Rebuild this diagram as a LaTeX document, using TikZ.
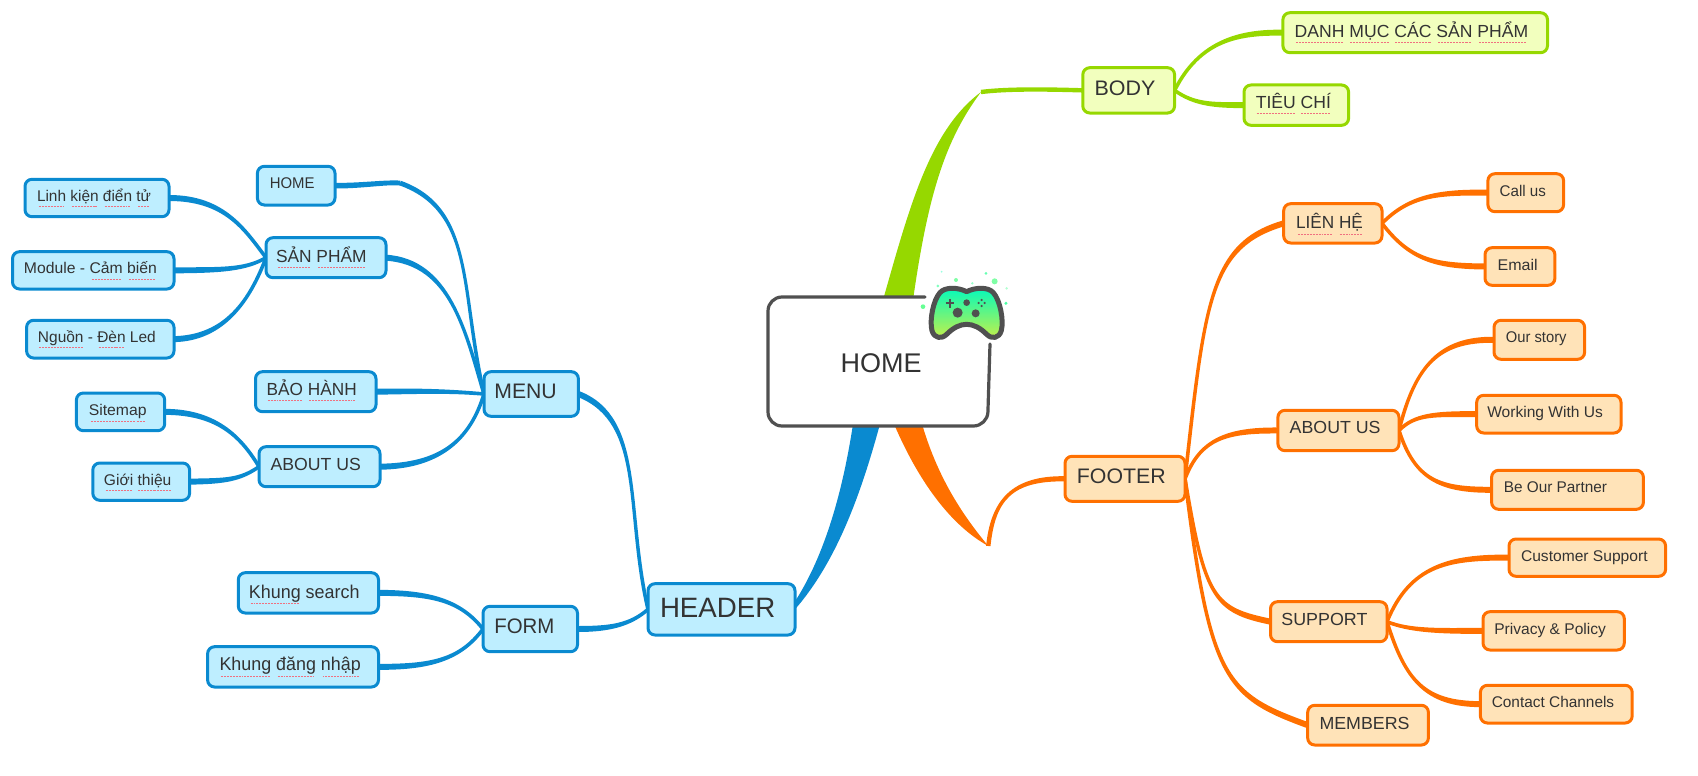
\documentclass[tikz,border=0pt]{standalone}
\usepackage{fontspec}
\usepackage{graphicx}
\setmainfont{Liberation Sans}
\usetikzlibrary{backgrounds,calc}
\definecolor{bluel}{HTML}{0A8AD0}
\definecolor{bluef}{HTML}{BEEEFF}
\definecolor{greenl}{HTML}{96D800}
\definecolor{greenf}{HTML}{F2FFBE}
\definecolor{orangel}{HTML}{FF7000}
\definecolor{orangef}{HTML}{FFE3B8}
\definecolor{inkc}{HTML}{333333}
\definecolor{rimc}{HTML}{505050}
\definecolor{spellc}{HTML}{F07080}
\newsavebox\mmbox
\newdimen\mmd
\newcommand\spell[1]{\setbox0\hbox{#1}\rlap{\raisebox{-6pt}{\hbox to \wd0{\color{spellc}\cleaders\hbox to 3pt{\hss\vrule width 2pt height 1.1pt depth 0pt\hss}\hfill}}}\box0 }
\newcommand\mm[9]{\tikzset{mmcur/.style={#1}}\def\mmname{#2}\def\mmxa{#3}\def\mmya{#4}\def\mmxb{#5}\def\mmyb{#6}\def\mmta{#7}\def\mmtb{#8}\def\mmty{#9}\mmfinish}
\newcommand\mmfinish[1]{%
  \pgfmathsetmacro\mmW{\mmxb-\mmxa-2}%
  \pgfmathsetmacro\mmH{\mmyb-\mmya-2}%
  \pgfmathsetmacro\mmcx{(\mmxa+\mmxb)/2}%
  \pgfmathsetmacro\mmcy{(\mmya+\mmyb)/2}%
  \node[mmcur,minimum width=\mmW pt,minimum height=\mmH pt] (\mmname) at (\mmcx,\mmcy) {%
    \sbox\mmbox{#1}\mmd=\wd\mmbox
    \pgfmathsetmacro\mmsx{(\mmtb-\mmta)/\the\mmd}%
    \setbox0\hbox{H}\mmd=\ht0
    \pgfmathsetmacro\mmup{\mmcy-\mmty-1-\the\mmd/2}%
    \pgfmathsetmacro\mmdx{\mmta-\mmxa-1}%
    \makebox[\mmW pt][l]{\hspace*{\mmdx pt}\raisebox{\mmup pt}[0pt][0pt]{\scalebox{\mmsx}[1]{\usebox\mmbox}}}%
  };}
% tapered connector: colour, half width at the first end, half width at the last end, first end, two controls, last end
\newcommand\taperw[7]{%
  \coordinate (tA1) at ($(#4)!#2pt!90:(#5)$);
  \coordinate (tA2) at ($(#4)!#2pt!-90:(#5)$);
  \coordinate (tB1) at ($(#7)!#3pt!-90:(#6)$);
  \coordinate (tB2) at ($(#7)!#3pt!90:(#6)$);
  \fill[#1] (tA1) .. controls ($(#5)+(tA1)-(#4)$) and ($(#6)+(tB1)-(#7)$) .. (tB1)
    -- (tB2) .. controls ($(#6)+(tB2)-(#7)$) and ($(#5)+(tA2)-(#4)$) .. (tA2) -- cycle;}
\newcommand\taper[5]{\taperw{#1}{3}{1.8}{#2}{#3}{#4}{#5}}
\tikzset{
  mapbox/.style={rounded corners=7pt,line width=3pt,inner sep=0pt,outer sep=0pt,text=inkc,draw},
  bluebox/.style={mapbox,draw=bluel,fill=bluef},
  greenbox/.style={mapbox,draw=greenl,fill=greenf},
  orangebox/.style={mapbox,draw=orangel,fill=orangef},
  homebox/.style={rounded corners=13pt,inner sep=0pt,outer sep=0pt,fill=white,text=inkc,font=\fontsize{27}{30}\selectfont},
  fa/.style={font=\fontsize{15.5}{18}\selectfont},
  fb/.style={font=\fontsize{17.5}{20}\selectfont},
  fc/.style={font=\fontsize{18.5}{21}\selectfont},
  fd/.style={font=\fontsize{21}{24}\selectfont},
  fe/.style={font=\fontsize{28}{31}\selectfont},
  rim/.style={draw=rimc,line width=3.2pt,line cap=round},
  dot/.style={fill=#1,draw=none}
}
\begin{document}
\begin{tikzpicture}[x=1pt,y=-1pt]
\useasboundingbox (0,0) rectangle (1698,776);
% centre
\mm{homebox}{home}{767}{296}{989}{426}{840.7}{921.7}{362}{HOME}
% blue
\mm{bluebox,fe}{header}{647}{582.7}{796}{636}{660}{775.3}{606.7}{HEADER}
\mm{bluebox,fd}{menu}{483}{370.7}{579.4}{417.3}{494.4}{556.8}{390.7}{MENU}
\mm{bluebox,fd}{form}{482}{605.3}{578.5}{652.7}{494.3}{554.4}{625.7}{FORM}
\mm{bluebox,fa}{mhome}{256.4}{165.3}{336}{206}{269.8}{314.6}{182.3}{HOME}
\mm{bluebox,fb}{sanpham}{265}{236.7}{387}{278.7}{276}{366.6}{255.3}{\spell{SẢN} \spell{PHẨM}}
\mm{bluebox,fb}{baohanh}{254.5}{370.7}{377}{412.7}{266.7}{356.7}{388}{\spell{BẢO} \spell{HÀNH}}
\mm{bluebox,fb}{maboutus}{258}{445.7}{381}{487.7}{270.6}{360.9}{463}{ABOUT US}
\mm{bluebox,fa}{linhkien}{24}{178.3}{170}{217.7}{37}{151}{195}{\spell{Linh} \spell{kiện} \spell{điển} \spell{tử}}
\mm{bluebox,fa}{module}{11.5}{250.7}{175}{290}{24}{157}{267.3}{Module - \spell{Cảm} \spell{biến}}
\mm{bluebox,fa}{nguon}{25.6}{319.3}{175}{359}{38}{155.8}{336}{\spell{Nguồn} - \spell{Đèn} Led}
\mm{bluebox,fa}{sitemap}{75.4}{392}{165.7}{431.7}{88.8}{146.6}{409.3}{\spell{Sitemap}}
\mm{bluebox,fa}{gioithieu}{91.8}{462}{190.6}{501.3}{104}{171.4}{479}{\spell{Giới} \spell{thiệu}}
\mm{bluebox,fc}{ksearch}{237.3}{571.7}{379.5}{614}{248.9}{359.6}{590.7}{\spell{Khung} search}
\mm{bluebox,fc}{kdangnhap}{206.6}{645.7}{379.5}{688}{219.5}{360.8}{663.3}{\spell{Khung} \spell{đăng} \spell{nhập}}
% green
\mm{greenbox,fd}{body}{1081.8}{66.7}{1175.6}{114}{1094.6}{1155.4}{87.7}{BODY}
\mm{greenbox,fb}{danhmuc}{1281.9}{11.7}{1548.5}{53.7}{1294.7}{1528.2}{30}{\spell{DANH} \spell{MỤC} \spell{CÁC} \spell{SẢN} \spell{PHẨM}}
\mm{greenbox,fb}{tieuchi}{1243}{84}{1349.6}{126.3}{1255.8}{1331}{101.3}{\spell{TIÊU} \spell{CHÍ}}
% orange
\mm{orangebox,fd}{footer}{1064}{455.3}{1186}{502.3}{1076.9}{1165.7}{475.7}{FOOTER}
\mm{orangebox,fb}{lienhe}{1282.7}{202.7}{1383}{244}{1296}{1362.9}{221.7}{\spell{LIÊN} \spell{HỆ}}
\mm{orangebox,fb}{faboutus}{1276.9}{409.3}{1400}{451.7}{1289.7}{1380.6}{426.7}{ABOUT US}
\mm{orangebox,fb}{support}{1269.5}{600.7}{1388}{642.7}{1281.4}{1367.4}{618.3}{SUPPORT}
\mm{orangebox,fb}{members}{1306.7}{704.3}{1429.4}{746}{1319.5}{1409.6}{722}{MEMBERS}
\mm{orangebox,fa}{callus}{1486.9}{172.7}{1564.6}{212.7}{1499.7}{1546}{190}{Call us}
\mm{orangebox,fa}{email}{1484}{246.7}{1555.9}{286.3}{1497.6}{1537.7}{264}{Email}
\mm{orangebox,fa}{ourstory}{1493}{319.3}{1585.6}{360.3}{1505.9}{1566.6}{336}{Our story}
\mm{orangebox,fa}{working}{1475.7}{394.3}{1622}{434}{1487.3}{1603}{411}{Working With Us}
\mm{orangebox,fa}{partner}{1490.6}{469.3}{1644.4}{510.3}{1503.8}{1607}{486}{Be Our Partner}
\mm{orangebox,fa}{customer}{1508}{538}{1666.6}{577.3}{1521}{1647.6}{555}{Customer Support}
\mm{orangebox,fa}{privacy}{1482}{610.7}{1625.3}{651}{1494.3}{1605.9}{627.7}{Privacy \& Policy}
\mm{orangebox,fa}{contact}{1479.4}{684.3}{1633.2}{724}{1491.8}{1614.2}{701.3}{Contact Channels}
\coordinate (greentip) at (981,92);
\coordinate (orangetip) at (988.3,546);
\coordinate (homekink) at (400,183);
\begin{pgfonlayer}{background}
  % main tapered branches
  \fill[greenl] (883,300) .. controls (910,205) and (930,130) .. (greentip) .. controls (945,140) and (928,195) .. (913,300) -- cycle;
  \fill[bluel] (853,424) .. controls (843,490) and (825,555) .. ($(header.east)+(0,-8)$) -- (header.east) .. controls (838,560) and (862,490) .. (880,424) -- cycle;
  \fill[orangel] (894,424) .. controls (918,480) and (950,525) .. (orangetip) .. controls (960,512) and (937,475) .. (922,424) -- cycle;
  % green links
  \taperw{greenl}{2.2}{2.2}{body.west}{1040,89}{1005,89}{greentip}
  \taper{greenl}{danhmuc.west}{1240,32}{1200,40}{body.east}
  \taper{greenl}{tieuchi.west}{1215,105}{1195,105}{body.east}
  % blue links
  \taper{bluel}{menu.east}{645,420}{625,510}{header.west}
  \taper{bluel}{form.east}{610,629}{630,625}{header.west}
  \taperw{bluel}{2.8}{2.4}{mhome.east}{360,186}{385,182}{homekink}
  \taperw{bluel}{2.4}{1.8}{homekink}{475,210}{460,290}{menu.west}
  \taper{bluel}{sanpham.east}{450,262}{465,330}{menu.west}
  \taper{bluel}{baohanh.east}{420,391}{450,391}{menu.west}
  \taper{bluel}{maboutus.east}{440,466}{470,440}{menu.west}
  \taper{bluel}{linhkien.east}{225,198}{245,230}{sanpham.west}
  \taper{bluel}{module.east}{220,270}{245,270}{sanpham.west}
  \taper{bluel}{nguon.east}{225,338}{250,300}{sanpham.west}
  \taper{bluel}{sitemap.east}{215,412}{240,435}{maboutus.west}
  \taper{bluel}{gioithieu.east}{225,481}{240,480}{maboutus.west}
  \taper{bluel}{ksearch.east}{430,593}{460,600}{form.west}
  \taper{bluel}{kdangnhap.east}{430,667}{460,660}{form.west}
  % orange links
  \taperw{orangel}{2.6}{2.2}{footer.west}{1012,478}{993,500}{orangetip}
  \taper{orangel}{lienhe.west}{1210,245}{1205,300}{footer.east}
  \taper{orangel}{faboutus.west}{1225,430}{1200,440}{footer.east}
  \taper{orangel}{support.west}{1215,610}{1205,600}{footer.east}
  \taper{orangel}{members.west}{1225,695}{1210,680}{footer.east}
  \taper{orangel}{callus.west}{1440,192}{1410,195}{lienhe.east}
  \taper{orangel}{email.west}{1435,266}{1410,260}{lienhe.east}
  \taper{orangel}{ourstory.west}{1440,339}{1415,365}{faboutus.east}
  \taper{orangel}{working.west}{1435,414}{1415,414}{faboutus.east}
  \taper{orangel}{partner.west}{1440,490}{1415,480}{faboutus.east}
  \taper{orangel}{customer.west}{1450,557}{1410,565}{support.east}
  \taper{orangel}{privacy.west}{1440,631}{1410,631}{support.east}
  \taper{orangel}{contact.west}{1425,704}{1405,680}{support.east}
\end{pgfonlayer}
% open outline of the central topic
\draw[rim,rounded corners=14pt] (925,297) -- (768,297) -- (768,426) -- (987.5,426) -- (990,344);
% game pad icon
\begin{scope}[shift={(740,250)},x=0.3333pt,y=-0.3333pt]
  \path[dot=green!30!cyan!40] (605,65) circle[radius=3];
  \path[dot=green!70!cyan!50] (648,90) circle[radius=6];
  \path[dot=green!50!cyan!60] (738,70) circle[radius=4.5];
  \path[dot=green!50!cyan!40] (697,100) circle[radius=4];
  \path[dot=green!70!cyan!50] (764,94) circle[radius=9];
  \path[dot=green!50!cyan!50] (594,108) circle[radius=4.5];
  \path[dot=green!60!cyan!30] (800,115) circle[radius=4];
  \path[dot=green!50!cyan!70] (798,160) circle[radius=5];
  \path[dot=green!70!cyan!60] (549,170) circle[radius=7];
  \draw[rimc,line width=5pt,line join=round,top color={rgb,255:red,0;green,250;blue,190},bottom color={rgb,255:red,200;green,240;blue,70}]
    (600,128) .. controls (615,110) and (655,112) .. (680,125)
    .. controls (705,112) and (745,110) .. (760,128)
    .. controls (780,150) and (792,210) .. (784,242)
    .. controls (777,266) and (755,268) .. (740,253)
    .. controls (720,233) and (700,223) .. (680,223)
    .. controls (660,223) and (640,233) .. (620,253)
    .. controls (605,268) and (583,266) .. (576,242)
    .. controls (568,210) and (580,150) .. (600,128) -- cycle;
  \draw[rimc,line width=2.2pt] (617,160) -- (643,160) (630,147) -- (630,173);
  \path[dot=rimc] (680,158) circle[radius=10];
  \path[dot=rimc] (653,188) circle[radius=15];
  \path[dot=rimc] (707,190) circle[radius=12];
  \path[dot=rimc] (725,150) circle[radius=3.5] (725,168) circle[radius=3.5] (716,159) circle[radius=3.5] (734,159) circle[radius=3.5];
\end{scope}
\end{tikzpicture}
\end{document}
